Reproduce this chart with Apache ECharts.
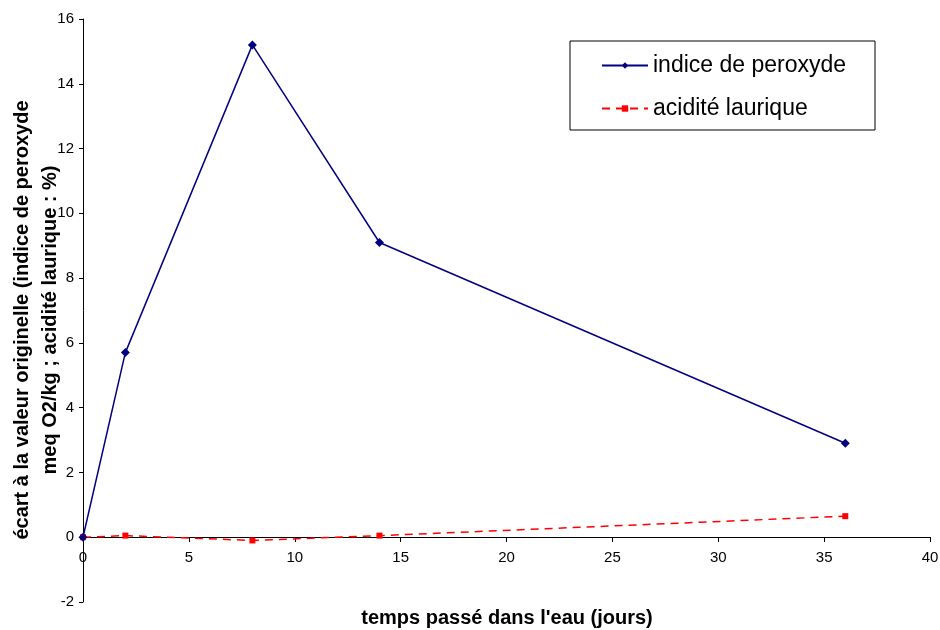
<!DOCTYPE html>
<html>
<head>
<meta charset="utf-8">
<script src="https://cdn.jsdelivr.net/npm/echarts@6/dist/echarts.min.js"></script>
<style>
  html, body { margin: 0; padding: 0; background: #fff; }
  #chart { width: 940px; height: 630px; }
</style>
</head>
<body>
<div id="chart"></div>
<script>
// jours
var jours = [0, 2, 8, 14, 36];
// écart à la valeur originelle
var peroxyde = [0, 5.7, 15.2, 9.1, 2.9];
var acidite = [0, 0.05, -0.1, 0.05, 0.65];

function pairs(xs, ys) {
    return xs.map(function (x, i) { return [x, ys[i]]; });
}

var myChart = echarts.init(document.getElementById('chart'));
var font = 'Liberation Sans, Arial, sans-serif';

// l'axe des x passe par y = 0 : décalage vers le haut de 2 unités (-2 -> 0)
var xOffset = -65;

myChart.setOption({
    animation: false,
    backgroundColor: '#fff',
    textStyle: { fontFamily: font },
    grid: { left: 83, right: 10, top: 19, bottom: 28, containLabel: false, outerBoundsMode: 'none' },
    graphic: [
        {
            type: 'rect',
            shape: { x: 570, y: 41, width: 305, height: 89 },
            style: { fill: '#fff', stroke: '#000', lineWidth: 1 },
            z: 1
        },
        {
            type: 'text',
            x: 507,
            y: 618,
            style: {
                text: "temps passé dans l'eau (jours)",
                fontFamily: font,
                fontSize: 20,
                fontWeight: 'bold',
                fill: '#000',
                align: 'center',
                verticalAlign: 'middle'
            }
        },
        {
            type: 'text',
            x: 36,
            y: 320,
            rotation: Math.PI / 2,
            style: {
                text: 'écart à la valeur originelle (indice de peroxyde\nmeq O2/kg ; acidité laurique : %)',
                fontFamily: font,
                fontSize: 20,
                fontWeight: 'bold',
                fill: '#000',
                lineHeight: 28,
                align: 'center',
                verticalAlign: 'middle'
            }
        }
    ],
    legend: {
        orient: 'vertical',
        left: 596,
        top: 49,
        itemWidth: 46,
        itemHeight: 8,
        itemGap: 20,
        z: 5,
        textStyle: { fontFamily: font, fontSize: 23, color: '#000', padding: [0, 0, 0, 0] },
        data: ['indice de peroxyde', 'acidité laurique']
    },
    xAxis: {
        type: 'value',
        min: 0,
        max: 40,
        interval: 5,
        offset: xOffset,
        axisLine: { onZero: false, lineStyle: { color: '#000', width: 1 } },
        axisTick: { show: true, length: 5, lineStyle: { color: '#000' } },
        axisLabel: { color: '#000', fontSize: 15, margin: 13, fontFamily: font },
        splitLine: { show: false }
    },
    yAxis: {
        type: 'value',
        min: -2,
        max: 16,
        interval: 2,
        axisLine: { show: true, onZero: false, lineStyle: { color: '#000', width: 1 } },
        axisTick: { show: true, length: 4, lineStyle: { color: '#000' } },
        axisLabel: { color: '#000', fontSize: 15, margin: 9, fontFamily: font },
        splitLine: { show: false }
    },
    series: [
        {
            name: 'indice de peroxyde',
            type: 'line',
            data: pairs(jours, peroxyde),
            symbol: 'diamond',
            symbolSize: 9,
            itemStyle: { color: '#000080' },
            lineStyle: { color: '#000080', width: 1.5 },
            z: 3
        },
        {
            name: 'acidité laurique',
            type: 'line',
            data: pairs(jours, acidite),
            symbol: 'rect',
            symbolSize: 6,
            itemStyle: { color: '#ff0000' },
            lineStyle: { color: '#ff0000', width: 1.5, type: [8, 6] },
            z: 2
        }
    ]
});
</script>
</body>
</html>
